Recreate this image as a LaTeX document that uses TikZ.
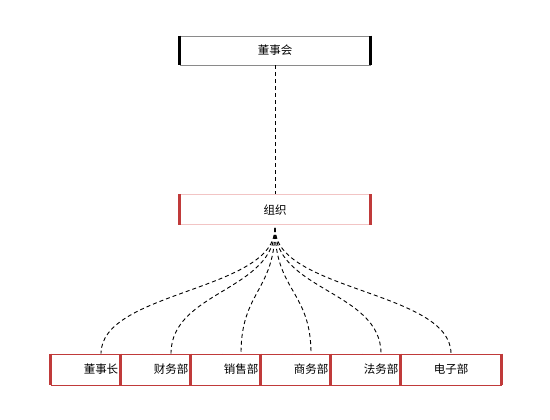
\documentclass[tikz,border=0pt]{standalone}
\usepackage{fontspec}
\newfontfamily\cjk{Noto Sans CJK SC}
\definecolor{redd}{HTML}{C03A3A}
\definecolor{pinkl}{HTML}{F2C4C4}
\definecolor{grayl}{HTML}{8A8A8A}
\begin{document}
\begin{tikzpicture}[x=1pt,y=-1pt,
  lbl/.style={font=\cjk\fontsize{11.5}{13}\selectfont, inner sep=0pt},
  conn/.style={dashed, dash pattern=on 4pt off 3pt, line width=0.9pt, black}]
\useasboundingbox (0,0) rectangle (550,420);
% top box
\node[draw=grayl, line width=0.8pt, fill=white, minimum width=190pt, minimum height=29pt, inner sep=0pt] (board) at (275,50.5) {};
\draw[line width=3pt, black] (board.north west) -- (board.south west);
\draw[line width=3pt, black] (board.north east) -- (board.south east);
\node[lbl] (boardt) at (board.center) {董事会};
% middle box
\node[draw=pinkl, line width=1pt, fill=white, minimum width=190pt, minimum height=30pt, inner sep=0pt] (org) at (275,210) {};
\draw[line width=3.5pt, redd] (org.north west) -- (org.south west);
\draw[line width=3.5pt, redd] (org.north east) -- (org.south east);
\node[lbl] (orgt) at (org.center) {组织};
\draw[conn] (board.south) -- (org.north);
\coordinate (src) at (275,228);
% bottom boxes
\foreach \i/\t in {0/董事长,1/财务部,2/销售部,3/商务部,4/法务部,5/电子部}{
  \node[draw=redd, line width=0.8pt, fill=white, minimum width=100pt, minimum height=31pt, inner sep=0pt] (b\i) at ({101+70*\i},369.5) {};
  \draw[line width=2.5pt, redd] (b\i.north west) -- (b\i.south west);
  \draw[line width=2.5pt, redd] (b\i.north east) -- (b\i.south east);
  \node[lbl] (t\i) at (b\i.center) {\t};
}
\foreach \i in {0,...,5}{
  \draw[conn] (src) .. controls (275,291) and ({101+70*\i},291) .. (b\i.north);
}
\end{tikzpicture}
\end{document}
